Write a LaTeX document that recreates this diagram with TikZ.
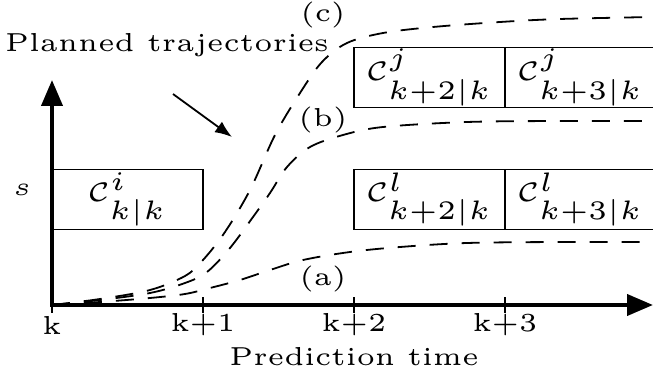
\documentclass[tikz,border=0pt]{standalone}
\usepackage{graphicx}
\usetikzlibrary{arrows.meta}
\newcommand\sctext[1]{\scalebox{5.35}[5.2]{\tiny #1}}
\newcommand\scmath[1]{\scalebox{5.5}[5.35]{\tiny $#1$}}
\begin{document}
\begin{tikzpicture}[x=1pt,y=-1pt,
  axis/.style={line width=4pt,{Triangle[length=26pt,width=21pt]}-{Triangle[length=26pt,width=21pt]}},
  cbox/.style={draw,line width=1.6pt,minimum width=151pt,minimum height=60pt,inner sep=0pt},
  traj/.style={line width=1.8pt,dash pattern=on 18pt off 14pt},
  lbl/.style={inner sep=0pt},
  tick/.style={line width=1.5pt}]
\useasboundingbox (0,0) rectangle (653,377);
% axes
\coordinate (O) at (52,305);
\coordinate (yend) at (52,80);
\coordinate (xend) at (653,305);
\draw[axis] (yend) -- (O) -- (xend);
% ticks
\foreach \n/\x/\t in {t1/203/k+1,t2/354/k+2,t3/505/k+3}{
  \draw[tick] (\x,297) -- (\x,313);
  \node[lbl] (\n) at (\x,325) {\sctext{\t}};
}
\draw[tick] (52,297) -- (52,313);
\node[lbl] (t0) at (52,325) {\sctext{k}};
\node[lbl] (xlab) at (354,357) {\sctext{Prediction time}};
\node[lbl] (ylab) at (22,190) {\sctext{$s$}};
% trajectories
\draw[traj] plot[smooth,tension=0.55] coordinates {(52,305) (100,299) (150,290) (185,276) (203,260) (225,232) (250,190) (275,135) (300,93) (322,62) (347,43) (383,33) (433,27) (500,22) (560,19) (653,17)};
\draw[traj] plot[smooth,tension=0.55] coordinates {(52,305) (100,300) (150,293) (185,283) (207,272) (230,248) (253,217) (270,193) (287,167) (310,147) (343,135) (383,127) (467,122) (560,121) (653,121)};
\draw[traj] plot[smooth,tension=0.55] coordinates {(52,305) (100,302) (150,298) (185,294) (210,288) (240,280) (270,270) (303,260) (350,252) (400,247) (467,243) (560,242) (653,242)};
\node[lbl] (lc) at (323,15) {\sctext{(c)}};
\node[lbl] (lb) at (323,120) {\sctext{(b)}};
\node[lbl] (la) at (323,279) {\sctext{(a)}};
% boxes
\node[cbox] (bi) at (127.5,199.5) {\scmath{\mathcal{C}^{i}_{k|k}}};
\node[cbox] (bj2) at (429.5,77.5) {\scmath{\mathcal{C}^{j}_{k+2|k}}};
\node[cbox] (bj3) at (580.5,77.5) {\scmath{\mathcal{C}^{j}_{k+3|k}}};
\node[cbox] (bl2) at (429.5,199.5) {\scmath{\mathcal{C}^{l}_{k+2|k}}};
\node[cbox] (bl3) at (580.5,199.5) {\scmath{\mathcal{C}^{l}_{k+3|k}}};
% planned trajectories
\node[lbl] (pt) at (167,45) {\sctext{Planned trajectories}};
\coordinate (pa) at (173,94);
\coordinate (pb) at (232,137);
\draw[line width=1.8pt,-{Latex[length=17pt,width=13pt]}] (pa) -- (pb);
\end{tikzpicture}
\end{document}
